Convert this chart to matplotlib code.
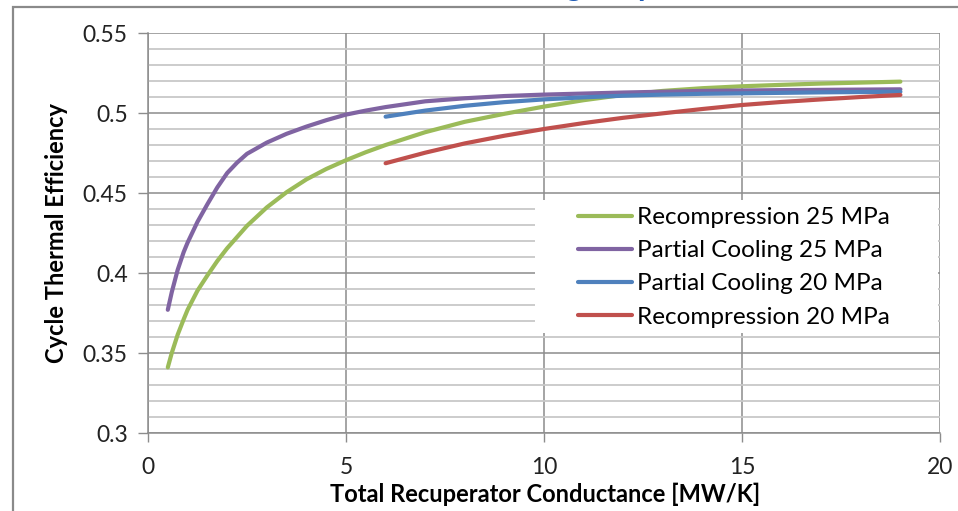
import numpy as np
import matplotlib
matplotlib.use("Agg")
import matplotlib.pyplot as plt
from matplotlib.patches import Rectangle
from matplotlib.ticker import MultipleLocator

plt.rcParams['font.family'] = ['Lato', 'DejaVu Sans']

# Recuperator conductance [MW/K] vs cycle thermal efficiency
ua_rc25 = [0.5, 0.6, 0.75, 0.9, 1, 1.25, 1.5, 1.75, 2, 2.5, 3, 3.5, 4, 4.5, 5, 5.5,
           6, 7, 8, 9, 10, 11, 12, 13, 14, 15, 16, 17, 18, 19]
eff_rc25 = [0.341, 0.350, 0.3615, 0.371, 0.377, 0.389, 0.3985, 0.4075, 0.4155, 0.4295,
            0.441, 0.4505, 0.4585, 0.465, 0.4705, 0.4755, 0.480, 0.488, 0.4945, 0.4995,
            0.504, 0.508, 0.5113, 0.5138, 0.5155, 0.5167, 0.5176, 0.5184, 0.519, 0.5196]

ua_pc25 = [0.5, 0.6, 0.75, 0.9, 1, 1.25, 1.5, 1.75, 2, 2.25, 2.5, 2.75, 3, 3.5, 4, 4.5,
           5, 5.5, 6, 7, 8, 9, 10, 12, 14, 16, 19]
eff_pc25 = [0.377, 0.388, 0.402, 0.413, 0.419, 0.432, 0.443, 0.4535, 0.4625, 0.469,
            0.4745, 0.478, 0.4815, 0.487, 0.4915, 0.4955, 0.499, 0.5015, 0.5037, 0.5073,
            0.5092, 0.5106, 0.5115, 0.5128, 0.5138, 0.5143, 0.5148]

ua_pc20 = [6, 7, 8, 9, 10, 11, 12, 13, 14, 15, 16, 17, 18, 19]
eff_pc20 = [0.4977, 0.5015, 0.5045, 0.5068, 0.5085, 0.5098, 0.5108, 0.5115, 0.5120,
            0.5123, 0.5126, 0.5129, 0.5131, 0.5133]

ua_rc20 = [6, 7, 8, 9, 10, 11, 12, 13, 14, 15, 16, 17, 18, 19]
eff_rc20 = [0.4686, 0.4752, 0.4810, 0.4858, 0.4900, 0.4937, 0.4970, 0.4998, 0.5025,
            0.5050, 0.5069, 0.5085, 0.5100, 0.5113]

series = [
    ("Recompression 25 MPa", ua_rc25, eff_rc25, "#9BBB59"),
    ("Partial Cooling 25 MPa", ua_pc25, eff_pc25, "#8064A2"),
    ("Partial Cooling 20 MPa", ua_pc20, eff_pc20, "#4F81BD"),
    ("Recompression 20 MPa", ua_rc20, eff_rc20, "#C0504D"),
]

fig = plt.figure(figsize=(9.58, 5.11), dpi=100)
ax = fig.add_axes([148 / 958, 1 - 433 / 511, 792 / 958, 400 / 511])

# chart frame and the clipped heading above it
fig.add_artist(Rectangle((13 / 958, -0.2), 1.2, 1.2 - 7 / 511,
                         transform=fig.transFigure, fill=False,
                         edgecolor="#8a8a8a", linewidth=1.6))
fig.text(565 / 958, 1 + 3.5 / 511, "g", color="#1f5bb5", fontsize=22, fontweight="bold",
         va="baseline", ha="left")
fig.text(637 / 958, 1 + 3.5 / 511, "p", color="#1f5bb5", fontsize=22, fontweight="bold",
         va="baseline", ha="left")

for name, x, y, c in series:
    ax.plot(x, y, color=c, linewidth=3.0, solid_capstyle="round",
            solid_joinstyle="round", label=name, zorder=3)

ax.set_xlim(0, 20)
ax.set_ylim(0.3, 0.55)
ax.yaxis.set_minor_locator(MultipleLocator(0.01))
ax.set_yticks([0.3, 0.35, 0.4, 0.45, 0.5, 0.55])
ax.set_yticklabels(["0.3", "0.35", "0.4", "0.45", "0.5", "0.55"])
ax.set_xticks([0, 5, 10, 15, 20])
ax.set_xticklabels(["0", "5", "10", "15", "20"])

ax.grid(which="major", axis="both", color="#8c8c8c", linewidth=1.1, zorder=1)
ax.grid(which="minor", axis="y", color="#c8c8c8", linewidth=1.3, zorder=0.5)
ax.set_axisbelow(True)
for s in ax.spines.values():
    s.set_color("#8c8c8c")
    s.set_linewidth(1.1)
ax.spines["top"].set_visible(False)
ax.spines["right"].set_visible(False)

ax.tick_params(axis="y", which="major", direction="out", length=7.5, width=1.0,
               color="#8c8c8c", pad=7, labelsize=16.5, labelcolor="#222222")
ax.tick_params(axis="y", which="minor", length=0)
ax.tick_params(axis="x", which="major", direction="out", length=6.5, width=1.0,
               color="#8c8c8c", pad=11, labelsize=16.5, labelcolor="#222222")

ax.set_xlabel("Total Recuperator Conductance [MW/K]", fontsize=17, fontweight="bold")
ax.set_ylabel("Cycle Thermal Efficiency", fontsize=17, fontweight="bold")
ax.xaxis.set_label_coords(0.501, -0.125)
ax.yaxis.set_label_coords(-0.101, 0.5)

# white legend panel over the grid
ax.add_patch(Rectangle(((535 - 148) / 792, (433 - 333) / 400),
                       (938 - 535) / 792, 133 / 400, transform=ax.transAxes,
                       facecolor="white", edgecolor="none", zorder=2))
ax.legend(loc="upper left", bbox_to_anchor=((578 - 148) / 792, (433 - 207) / 400),
          frameon=False, fontsize=17.5, handlelength=2.22, handletextpad=0.2,
          labelspacing=0.5, borderpad=0, borderaxespad=0)

fig.savefig("out.png", dpi=100)
